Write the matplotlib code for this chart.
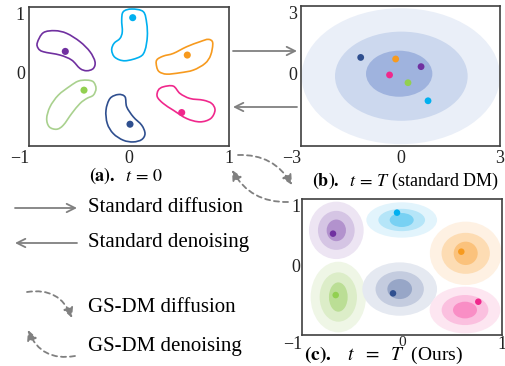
import numpy as np
import matplotlib
matplotlib.use("Agg")
import matplotlib.pyplot as plt
from matplotlib.path import Path
from matplotlib.patches import PathPatch, Ellipse, FancyArrowPatch

plt.rcParams['font.family'] = ['Liberation Serif', 'DejaVu Serif']
plt.rcParams['mathtext.fontset'] = 'stix'

W, H = 506, 366

# ---- (a) t = 0 : cluster outlines (x, y) and centre points
blob_purple = [(-0.917, 0.451), (-0.857, 0.605), (-0.74, 0.636), (-0.623, 0.595), (-0.49, 0.467),
               (-0.39, 0.313), (-0.34, 0.159), (-0.357, 0.056), (-0.423, 0.021), (-0.49, 0.056),
               (-0.573, 0.185), (-0.69, 0.262), (-0.857, 0.313), (-0.907, 0.364)]
blob_cyan = [(-0.057, 0.928), (0.027, 0.969), (0.143, 0.928), (0.177, 0.749), (0.183, 0.544),
             (0.16, 0.338), (0.11, 0.236), (-0.04, 0.174), (-0.14, 0.226), (-0.173, 0.338),
             (-0.15, 0.441), (-0.09, 0.518), (-0.067, 0.621), (-0.073, 0.8)]
blob_orange = [(0.277, 0.185), (0.343, 0.246), (0.443, 0.287), (0.577, 0.39), (0.71, 0.467),
               (0.793, 0.503), (0.837, 0.451), (0.817, 0.262), (0.76, 0.133), (0.643, 0.031),
               (0.51, -0.01), (0.377, -0.031), (0.303, 0.005), (0.277, 0.082)]
blob_green = [(-0.423, -0.123), (-0.357, -0.149), (-0.33, -0.251), (-0.357, -0.354), (-0.423, -0.405),
              (-0.49, -0.482), (-0.573, -0.636), (-0.657, -0.815), (-0.723, -0.877), (-0.797, -0.841),
              (-0.823, -0.713), (-0.79, -0.533), (-0.707, -0.354), (-0.59, -0.215), (-0.507, -0.138)]
blob_navy = [(-0.19, -0.405), (-0.107, -0.344), (-0.04, -0.379), (-0.023, -0.533), (0.043, -0.687),
             (0.127, -0.815), (0.16, -0.944), (0.127, -1.036), (0.043, -1.072), (-0.057, -1.046),
             (-0.157, -0.944), (-0.217, -0.79), (-0.23, -0.585)]
blob_pink = [(0.293, -0.277), (0.343, -0.226), (0.443, -0.215), (0.51, -0.328), (0.61, -0.405),
             (0.743, -0.431), (0.827, -0.482), (0.86, -0.585), (0.817, -0.713), (0.71, -0.764),
             (0.577, -0.713), (0.443, -0.585), (0.343, -0.482), (0.283, -0.379)]
blobs_a = [blob_purple, blob_cyan, blob_orange, blob_green, blob_navy, blob_pink]
dots_a_x = [-0.637, 0.037, 0.583, -0.45, 0.01, 0.527]
dots_a_y = [0.318, 0.836, 0.262, -0.277, -0.8, -0.621]

line_colors = ['#7030a0', '#00b0f0', '#f79a1e', '#a9d18e', '#2f4f8f', '#f0288c']
dot_colors = ['#7030a0', '#00b0f0', '#f79a1e', '#92d050', '#2f4f8f', '#f0288c']

# ---- (b) t = T standard DM : shared gaussian rings and the noised points
rings_b_cx = [0.01, 0.025, -0.04]
rings_b_cy = [-0.126, -0.126, -0.015]
rings_b_w = [5.98, 4.0, 2.0]
rings_b_h = [6.05, 3.97, 2.05]
rings_b_col = ['#eaeff8', '#ccd8ee', '#9fb3de']
dots_b_x = [0.62, 0.83, -0.146, -0.33, -1.2, 0.226]   # purple, cyan, orange, pink, navy, green
dots_b_y = [0.30, -1.22, 0.64, -0.07, 0.71, -0.416]
dots_b_col = ['#7030a0', '#00b0f0', '#f79a1e', '#f0288c', '#2f4f8f', '#92d050']

# ---- (c) t = T ours : one gaussian per cluster (outer, middle, inner)
c_cx = [-0.657, -0.003, 0.637, -0.637, -0.023, 0.63]
c_cy = [0.525, 0.682, 0.177, -0.485, -0.364, -0.682]
c_w = [[0.547, 0.367, 0.193], [0.707, 0.467, 0.24], [0.717, 0.483, 0.24],
       [0.553, 0.373, 0.187], [0.747, 0.483, 0.247], [0.707, 0.467, 0.24]]
c_h = [[0.869, 0.591, 0.328], [0.535, 0.338, 0.212], [0.96, 0.621, 0.354],
       [1.07, 0.747, 0.444], [0.808, 0.54, 0.303], [0.707, 0.455, 0.253]]
c_shades = [['#ede5f3', '#d5c5e4', '#b292cd'],
            ['#e2f4fc', '#b5e5f8', '#78d1f3'],
            ['#fef1e3', '#fddcb3', '#fbc27c'],
            ['#eff6e6', '#dcedc8', '#bbde95'],
            ['#e5e9f1', '#c4ccdf', '#97a6c7'],
            ['#fde6f1', '#fbc0df', '#f98ec5']]
dots_c_x = [-0.69, -0.05, 0.593, -0.663, -0.09, 0.763]
dots_c_y = [0.475, 0.793, 0.202, -0.455, -0.429, -0.556]


def smooth_closed(pts):
    # closed Catmull-Rom outline turned into cubic bezier path
    p = np.asarray(pts, float)
    n = len(p)
    verts = [p[0]]
    codes = [Path.MOVETO]
    for i in range(n):
        p0, p1, p2, p3 = p[i - 1], p[i], p[(i + 1) % n], p[(i + 2) % n]
        verts += [p1 + (p2 - p0) / 6, p2 - (p3 - p1) / 6, p2]
        codes += [Path.CURVE4] * 3
    return Path(verts, codes)


def style_axes(ax, xlim, ylim, xt, yt, pad=3):
    ax.set_xlim(xlim)
    ax.set_ylim(ylim)
    ax.set_xticks(xt)
    ax.set_yticks(yt)
    ax.set_xticklabels([f"{v:g}".replace('-', '\u2212') for v in xt])
    ax.set_yticklabels([f"{v:g}" for v in yt])
    ax.tick_params(length=0, labelsize=13, pad=pad, colors='#222222')
    ax.get_xticklabels()[0].set_ha('right')
    ax.get_yticklabels()[-1].set_va('top')
    for s in ax.spines.values():
        s.set_color('#404040')
        s.set_linewidth(1.2)


def fp(x, y):
    return (x / W, 1 - y / H)


fig = plt.figure(figsize=(W / 100, H / 100), dpi=100)

# (a)
ax_a = fig.add_axes([29 / W, 1 - 145.7 / H, 200 / W, 138.7 / H])
for pts, col in zip(blobs_a, line_colors):
    ax_a.add_patch(PathPatch(smooth_closed(pts), fill=False, ec=col, lw=1.2))
ax_a.scatter(dots_a_x, dots_a_y, s=26, c=dot_colors, zorder=3, linewidths=0)
style_axes(ax_a, (-1, 1), (-1.13, 1), [-1, 0, 1], [0, 1])

# (b)
ax_b = fig.add_axes([301 / W, 1 - 145.7 / H, 199 / W, 139.7 / H])
for cx, cy, w, h, col in zip(rings_b_cx, rings_b_cy, rings_b_w, rings_b_h, rings_b_col):
    ax_b.add_patch(Ellipse((cx, cy), w, h, fc=col, ec='none'))
ax_b.scatter(dots_b_x, dots_b_y, s=24, c=dots_b_col, zorder=3, linewidths=0)
style_axes(ax_b, (-3, 3), (-3.22, 3), [-3, 0, 3], [0, 3])

# (c)
ax_c = fig.add_axes([302 / W, 1 - 335 / H, 200 / W, 136 / H])
for i in range(6):
    for k in range(3):
        ax_c.add_patch(Ellipse((c_cx[i], c_cy[i]), c_w[i][k], c_h[i][k],
                               fc=c_shades[i][k], ec='none'))
ax_c.scatter(dots_c_x, dots_c_y, s=22, c=dot_colors, zorder=3, linewidths=0)
style_axes(ax_c, (-1, 1), (-1.06, 1), [-1, 0, 1], [0, 1], pad=1)
ax_c.get_xticklabels()[1].set_fontsize(11)

# captions
fig.text(*fp(126, 176), r"$\mathbf{(a).}\ \ t\,=\,0$", ha='center', va='center', fontsize=13)
fig.text(*fp(405, 181), r"$\mathbf{(b).}\ \ t\,=\,T$ (standard DM)", ha='center', va='center', fontsize=13)
fig.text(*fp(383, 365.5), r"$\mathbf{(c).}\ \ \ t\ \ =\ \ T\ \ $(Ours)", ha='center', va='bottom', fontsize=14)

gray = '#808080'
solid = dict(arrowstyle='->,head_length=0.6,head_width=0.3', color=gray, lw=1.3,
             mutation_scale=10, shrinkA=0, shrinkB=0, transform=fig.transFigure)
dashed = dict(arrowstyle='-|>,head_length=0.6,head_width=0.3', color=gray, lw=1.3,
              mutation_scale=10, shrinkA=0, shrinkB=0, transform=fig.transFigure,
              linestyle=(0, (2.8, 2.2)))

arrows = [
    (fp(233, 51), fp(297, 51), solid, None),
    (fp(297, 107), fp(233, 107), solid, None),
    (fp(238, 155), fp(292, 185), dashed, 'arc3,rad=-0.3'),
    (fp(288, 202), fp(232, 170), dashed, 'arc3,rad=-0.3'),
    (fp(15, 208), fp(77, 208), solid, None),
    (fp(77, 243), fp(15, 243), solid, None),
    (fp(27, 292), fp(72, 318), dashed, 'arc3,rad=-0.4'),
    (fp(75, 356), fp(28, 330), dashed, 'arc3,rad=-0.4'),
]
for a, b, kw, cs in arrows:
    extra = {'connectionstyle': cs} if cs else {}
    fig.patches.append(FancyArrowPatch(a, b, **kw, **extra))

legend_labels = ["Standard diffusion", "Standard denoising", "GS-DM diffusion", "GS-DM denoising"]
legend_y = [208, 243, 307, 346]
for lab, y in zip(legend_labels, legend_y):
    fig.text(*fp(88, y), lab, ha='left', va='center', fontsize=15)

fig.savefig('out.png', dpi=100)
